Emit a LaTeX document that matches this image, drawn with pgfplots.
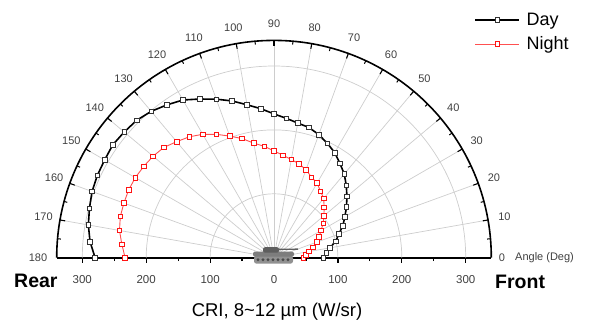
\documentclass[border=0pt]{standalone}
\usepackage{fontspec}
\setmainfont{Liberation Sans}
\usepackage{pgfplots}
\pgfplotsset{compat=1.18}
\definecolor{gridc}{RGB}{205,205,205}
\definecolor{lblc}{RGB}{64,64,64}
\definecolor{nightc}{RGB}{255,20,20}
\definecolor{nightl}{RGB}{255,80,80}
\definecolor{tankc}{RGB}{125,125,125}
\begin{document}
\begin{tikzpicture}
\begin{axis}[
  x=0.639pt, y=0.639pt,
  xmin=-340, xmax=340, ymin=0, ymax=340,
  axis x line*=bottom, axis y line=none,
  x axis line style={line width=1.6pt},
  ytick=\empty,
  xtick={-300,-200,-100,0,100,200,300},
  xticklabels={300,200,100,0,100,200,300},
  minor xtick={-250,-150,-50,50,150,250},
  tick align=outside,
  major tick length=5pt, minor tick length=3.5pt,
  tick style={black, line width=1.2pt},
  xticklabel style={font=\fontsize{11.5}{12}\selectfont, text=lblc, yshift=-9pt},
  /pgf/number format/assume math mode=true,
  clip=false,
  legend style={draw=none, fill=none, at={(axis description cs:0.961,1.135)}, anchor=north west,
     font=\fontsize{18}{21}\selectfont, row sep=7pt, inner sep=0pt, nodes={inner sep=1.5pt},
     /tikz/every odd column/.append style={column sep=5pt}},
  legend cell align=left,
  legend image code/.code={\draw[mark repeat=2,mark phase=2,#1] plot coordinates {(0pt,0pt) (22pt,0pt) (44pt,0pt)};},
]
% grid
\pgfplotsinvokeforeach{100,200,300}{
  \draw[gridc, line width=0.7pt] (axis cs:#1,0) arc[start angle=0, end angle=180, radius=#1*0.639pt];
}
\pgfplotsinvokeforeach{10,20,...,170}{
  \draw[gridc, line width=0.7pt] (axis cs:0,0) -- ++(#1:217.3pt);
}
\coordinate (O) at (axis cs:0,0);

\addplot[black, line width=1.6pt, mark=square*, mark size=2.3pt,
  mark options={solid, fill=white, draw=black!80, line width=0.7pt}, data cs=polar]
coordinates {
(0,77) (5,82) (10,89) (15,100) (20,108) (25,119) (30,128) (35,138.5) (40,149)
(45,160) (50,171) (55,180) (60,190) (65,197.5) (70,205) (75,211) (80,214)
(85,219) (90,225) (95,234) (100,243) (105,254) (110,264) (115,274) (120,285)
(125,292) (130,299) (135,304) (140,306) (145,308) (150,306) (155,305) (160,303)
(165,299) (170,295) (175,289) (180,280)
};
\addlegendentry{Day}
\addplot[nightl, line width=0.9pt, mark=square*, mark size=2.3pt,
  mark options={solid, fill=white, draw=nightc, line width=0.8pt}, data cs=polar]
coordinates {
(0,46) (5,50) (10,55.6) (15,62.7) (20,71) (25,78) (30,85) (35,94) (40,102)
(45,111) (50,121) (55,127) (60,134.7) (65,139) (70,146.5) (75,152) (80,156)
(85,161) (90,167) (95,175) (100,182) (105,193) (110,202.5) (115,213) (120,223)
(125,231) (130,237) (135,244) (140,247) (145,249) (150,250.6) (155,251) (160,250)
(165,249) (170,245.5) (175,239) (180,233)
};
\addlegendentry{Night}
\end{axis}
% outer arc and angular ticks
\draw[black, line width=1.6pt] ([xshift=217.3pt]O) arc[start angle=0, end angle=180, radius=217.3pt];
\foreach \a in {10,20,...,170}
  \draw[black, line width=1.1pt] ([shift={(\a:217.3pt)}]O) -- ([shift={(\a:212pt)}]O);
\foreach \a in {5,15,...,175}
  \draw[black, line width=1.0pt] ([shift={(\a:217.3pt)}]O) -- ([shift={(\a:214pt)}]O);
% angle labels
\foreach \a in {10,20,...,170}
  \node[font=\fontsize{11}{12}\selectfont, text=lblc, inner sep=0pt] at ([shift={(\a:234pt)}]O) {\a};
\node[font=\fontsize{11}{12}\selectfont, text=lblc, inner sep=0pt] at ([shift={(228pt,0pt)}]O) {0};
\node[font=\fontsize{11}{12}\selectfont, text=lblc, inner sep=0pt, anchor=west] at ([shift={(241pt,0pt)}]O) {Angle (Deg)};
\node[font=\fontsize{11}{12}\selectfont, text=lblc, inner sep=0pt] at ([shift={(-236pt,-0.5pt)}]O) {180};
% tank icon
\fill[tankc!85!white, rounded corners=2.5pt] ([shift={(-20pt,-6pt)}]O) rectangle ([shift={(19pt,2pt)}]O);
\fill[tankc, rounded corners=1.5pt] ([shift={(-21pt,1pt)}]O) rectangle ([shift={(20pt,6pt)}]O);
\fill[tankc!75!black, rounded corners=2pt] ([shift={(-11pt,5pt)}]O) rectangle ([shift={(5pt,10.5pt)}]O);
\draw[tankc!75!black, line width=1.3pt] ([shift={(4pt,8.3pt)}]O) -- ([shift={(24pt,8.6pt)}]O);
\foreach \i in {-16,-11,...,14}
  \fill[tankc!60!black] ([shift={(\i pt,-2pt)}]O) circle[radius=1.6pt];
% side and axis titles
\node[font=\bfseries\fontsize{19.5}{20}\selectfont, anchor=base west, inner sep=0pt] at ([shift={(-260pt,-30pt)}]O) {Rear};
\node[font=\bfseries\fontsize{19.5}{20}\selectfont, anchor=base west, inner sep=0pt] at ([shift={(221pt,-31pt)}]O) {Front};
\node[font=\fontsize{18.5}{20}\selectfont, anchor=base, inner sep=0pt] at ([shift={(3pt,-58.3pt)}]O) {CRI, 8\textasciitilde12 µm (W/sr)};
% bounding box matching the reference frame
\path ([shift={(-274pt,-64.3pt)}]O) rectangle ([shift={(315pt,257.7pt)}]O);
\end{tikzpicture}
\end{document}
